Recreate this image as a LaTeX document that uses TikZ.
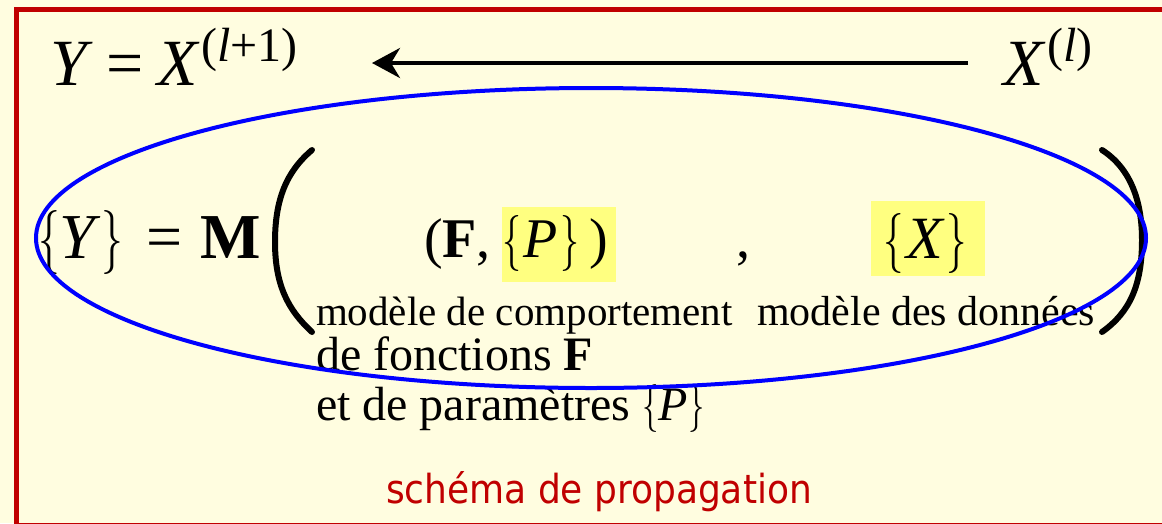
\documentclass[tikz,border=0pt]{standalone}
\usepackage{fix-cm}
\usepackage{graphicx}
\usepackage{fontspec}
\setmainfont{Liberation Serif}
\newfontfamily\redsans{DejaVu Sans Condensed}
\usetikzlibrary{arrows.meta}
\definecolor{bgcol}{RGB}{255,253,224}
\definecolor{framecol}{RGB}{192,0,0}
\definecolor{hlcol}{RGB}{255,255,128}
\definecolor{ellcol}{RGB}{0,0,255}
\newcommand{\fsz}[1]{\fontsize{#1}{#1}\selectfont}
\newcommand{\lbr}{\scalebox{0.68}[1]{$\{$}}
\newcommand{\rbr}{\scalebox{0.68}[1]{$\}$}}
\tikzset{
  txt/.style={inner sep=0pt, outer sep=0pt, anchor=base west},
  paren/.style={line width=6pt, line cap=round, black},
  hlbox/.style={fill=hlcol, draw=none},
}
\begin{document}
\begin{tikzpicture}[x=1pt,y=-1pt]
\useasboundingbox (0,0) rectangle (1162,523);
\begin{scope}
\clip (0,0) rectangle (1162,523);
\fill[bgcol] (0,0) rectangle (1162,523);
\draw[framecol, line width=5pt] (16,9) rectangle (1180,525);
\end{scope}
% highlights
\fill[hlbox] (502,207) rectangle (616,282);
\fill[hlbox] (871,201) rectangle (985,276);
% top line
\node[txt] (ytop) at (50,85) {\fsz{66}\textit{Y}\hspace{14pt}=\hspace{14pt}\textit{X}\hspace{1pt}\raisebox{24pt}{\fsz{48}(\textit{l}+1)}};
\node[txt] (xtop) at (1003,85) {\fsz{66}\textit{X}\hspace{2pt}\raisebox{24pt}{\fsz{48}(\textit{l})}};
\coordinate (arrS) at (968,63);
\coordinate (arrE) at (372,63);
\draw[line width=4pt, -{Stealth[length=28pt,width=30pt,inset=9pt]}] (arrS) -- (arrE);
% main line
\node[txt] (yset) at (38,258) {\fsz{64}\lbr\textit{Y}\rbr\hspace{24pt}=\hspace{18pt}\textbf{M}};
\node[txt] (fp) at (424,257) {\fsz{56}(\textbf{F},\hspace{12pt}\lbr\hspace{2pt}\textit{P}\hspace{2pt}\rbr\hspace{10pt})};
\node[txt] (comma) at (736,257) {\fsz{56},};
\node[txt] (xset) at (883,258) {\fsz{60}\lbr\hspace{3pt}\textit{X}\hspace{2pt}\rbr};
% big parentheses
\draw[paren] (312,150) .. controls (286,172) and (275,200) .. (275,242) .. controls (275,285) and (288,310) .. (312,332);
\draw[paren] (1102,150) .. controls (1130,168) and (1142,200) .. (1142,240) .. controls (1142,285) and (1130,312) .. (1102,332);
% sub texts
\node[txt] (mc) at (316,325) {\fsz{41}modèle de comportement};
\node[txt] (md) at (757,325) {\fsz{42}modèle des données};
\node[txt] (df) at (316,370) {\fsz{48}de fonctions \textbf{F}};
\node[txt] (dp) at (316,420) {\fsz{48}et de paramètres \lbr\textit{P}\rbr};
\node[txt, text=framecol] (sp) at (386,503) {\fsz{40}\redsans schéma de propagation};
% ellipse
\draw[ellcol, line width=4pt] (591,238) ellipse [x radius=555pt, y radius=150pt];
\end{tikzpicture}
\end{document}
